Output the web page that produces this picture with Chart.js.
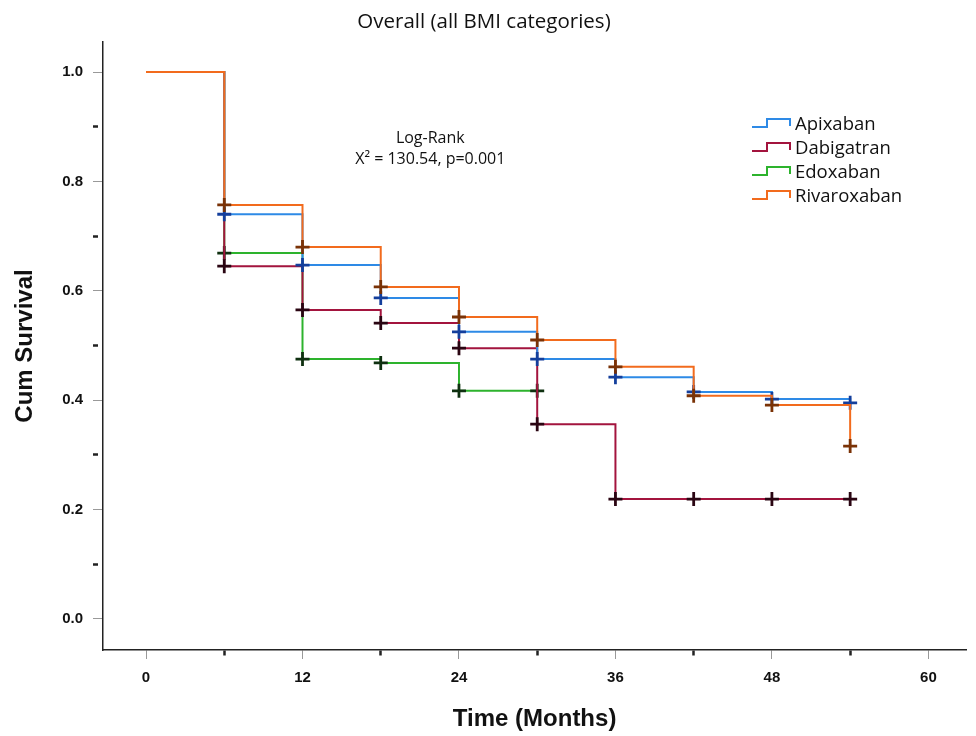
<!DOCTYPE html>
<html>
<head>
<meta charset="utf-8">
<script src="https://cdn.jsdelivr.net/npm/chart.js@4"></script>
<style>
  body { margin: 0; background: #fff; }
  canvas { display: block; }
</style>
</head>
<body>
<canvas id="km" width="976" height="736"></canvas>
<script>
// time points (months) where each curve steps
const months = [0, 6, 12, 18, 24, 30, 36, 42, 48, 54];
const edoxabanMonths = [0, 6, 12, 18, 24, 30];

// cumulative survival
const apixaban    = [1.0, 0.740, 0.647, 0.587, 0.525, 0.475, 0.442, 0.415, 0.402, 0.395];
const dabigatran  = [1.0, 0.645, 0.565, 0.541, 0.495, 0.356, 0.219, 0.219, 0.219, 0.219];
const edoxaban    = [1.0, 0.669, 0.475, 0.468, 0.417, 0.417];
const rivaroxaban = [1.0, 0.757, 0.680, 0.607, 0.552, 0.510, 0.461, 0.408, 0.391, 0.316];

const drugNames = ['Apixaban', 'Dabigatran', 'Edoxaban', 'Rivaroxaban'];
const lineColors = ['#2e8ae6', '#a3143e', '#2db32d', '#f26b1d'];
const crossColors = ['#143f9c', '#2a0512', '#0f3010', '#7a3206'];

const chartTitle = 'Overall (all BMI categories)';
const testLines = ['Log-Rank', 'X\u00B2 = 130.54, p=0.001'];

function toPoints(xs, ys) {
  return ys.map((y, i) => ({ x: xs[i], y: y }));
}

function makeSet(i, xs, ys, order) {
  return {
    label: drugNames[i],
    data: toPoints(xs, ys),
    stepped: true,
    borderColor: lineColors[i],
    borderWidth: 2,
    fill: false,
    order: order,
    pointStyle: 'cross',
    pointRadius: ctx => ctx.dataIndex === 0 ? 0 : 7,
    pointHoverRadius: 7,
    pointBorderColor: crossColors[i],
    pointBorderWidth: 2.8
  };
}

// legend + log-rank text, drawn over the plot
const kmExtras = {
  id: 'kmExtras',
  afterDraw(chart) {
    const ctx = chart.ctx;
    const xs = chart.scales.x, ys = chart.scales.y;
    ctx.save();

    ctx.fillStyle = '#111';
    ctx.font = '16px "Open Sans"';
    ctx.textAlign = 'center';
    ctx.textBaseline = 'middle';
    const cx = xs.getPixelForValue(21.8);
    const cy = ys.getPixelForValue(0.879);
    ctx.fillText(testLines[0], cx, cy);
    ctx.fillText(testLines[1], cx, cy + 21);

    ctx.textAlign = 'left';
    ctx.font = '18.5px "Open Sans"';
    chart.data.datasets.forEach((ds, i) => {
      const y = 125 + i * 24;
      ctx.strokeStyle = ds.borderColor;
      ctx.lineWidth = 2;
      ctx.beginPath();
      ctx.moveTo(752, y + 2);
      ctx.lineTo(767, y + 2);
      ctx.lineTo(767, y - 6);
      ctx.lineTo(790, y - 6);
      ctx.lineTo(790, y + 1);
      ctx.stroke();
      ctx.fillStyle = '#111';
      ctx.fillText(ds.label, 795, y);
    });
    ctx.restore();
  }
};

const isMajorY = v => Math.round(v * 10) % 2 === 0;
const isMajorX = v => Math.round(v) % 12 === 0;

new Chart(document.getElementById('km'), {
  type: 'line',
  data: {
    datasets: [
      makeSet(0, months, apixaban, 1),
      makeSet(1, months, dabigatran, 2),
      makeSet(2, edoxabanMonths, edoxaban, 3),
      makeSet(3, months, rivaroxaban, 0)
    ]
  },
  options: {
    responsive: false,
    animation: false,
    layout: { padding: { left: 0, right: 8, top: 0, bottom: 0 } },
    plugins: {
      legend: { display: false },
      tooltip: { enabled: false },
      title: {
        display: true,
        text: chartTitle,
        color: '#111',
        font: { family: '"Open Sans"', size: 20.5, weight: 'normal' },
        padding: { top: 10, bottom: 7.4 }
      }
    },
    scales: {
      x: {
        type: 'linear',
        min: -3.3,
        max: 62.9,
        afterFit: s => { s.height = 86; },
        border: { display: true, color: '#222', width: 1.5 },
        grid: {
          drawOnChartArea: false,
          drawTicks: true,
          tickLength: 9,
          tickColor: c => isMajorX(c.tick.value) ? '#999' : '#222',
          tickWidth: c => isMajorX(c.tick.value) ? 1 : 2.5,
          tickBorderDash: c => isMajorX(c.tick.value) ? [] : [5, 20]
        },
        ticks: {
          stepSize: 6,
          includeBounds: false,
          autoSkip: false,
          maxRotation: 0,
          padding: 10,
          color: '#111',
          font: { family: '"Liberation Sans", Arial', size: 15, weight: 'bold' },
          callback: v => isMajorX(v) ? String(Math.round(v)) : ''
        },
        title: {
          display: true,
          text: 'Time (Months)',
          color: '#111',
          font: { family: '"Liberation Sans", Arial', size: 24, weight: 'bold' },
          padding: { top: 0, bottom: 2 }
        }
      },
      y: {
        type: 'linear',
        min: -0.057,
        max: 1.055,
        afterFit: s => { s.width = 103; },
        border: { display: true, color: '#222', width: 1.5 },
        grid: {
          drawOnChartArea: false,
          drawTicks: true,
          tickLength: 10,
          tickColor: c => isMajorY(c.tick.value) ? '#999' : '#222',
          tickWidth: c => isMajorY(c.tick.value) ? 1 : 2.5,
          tickBorderDash: c => isMajorY(c.tick.value) ? [] : [5, 20]
        },
        ticks: {
          stepSize: 0.1,
          includeBounds: false,
          autoSkip: false,
          padding: 10,
          color: '#111',
          font: { family: '"Liberation Sans", Arial', size: 15, weight: 'bold' },
          callback: v => isMajorY(v) ? v.toFixed(1) : ''
        },
        title: {
          display: true,
          text: 'Cum Survival',
          color: '#111',
          font: { family: '"Liberation Sans", Arial', size: 24, weight: 'bold' },
          padding: { top: 11, bottom: 0 }
        }
      }
    }
  },
  plugins: [kmExtras]
});
</script>
</body>
</html>
